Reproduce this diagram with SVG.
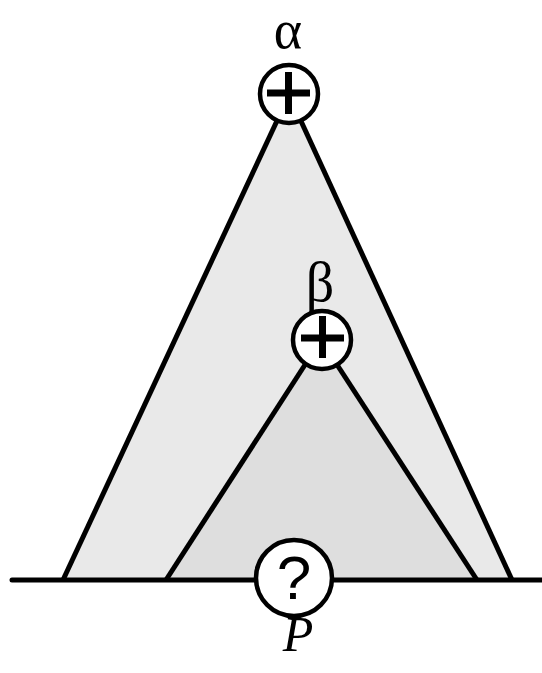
<svg xmlns="http://www.w3.org/2000/svg" width="542" height="673" viewBox="0 0 542 673">
<style>
.tri{stroke:#000;stroke-width:5;stroke-linejoin:round}
.big{fill:#e9e9e9}
.small{fill:#dedede}
.node{fill:#fff;stroke:#000;stroke-width:4.5}
.plus{stroke:#000;stroke-width:7;fill:none}
.lbl{font-family:"Liberation Serif","Times New Roman",serif;fill:#000;text-anchor:middle}
.q{font-family:"Liberation Sans",Arial,sans-serif;fill:#000;text-anchor:middle}
</style>
<rect width="542" height="673" fill="#fff"/>
<g id="connectors">
<polygon class="big" points="289,95 63,580 512,580"/>
<line class="tri" x1="289" y1="95" x2="63" y2="580"/>
<line class="tri" x1="289" y1="95" x2="512" y2="580"/>
<polygon class="small" points="321,340 166,580 477,580"/>
<line class="tri" x1="321" y1="340" x2="166" y2="580"/>
<line class="tri" x1="321" y1="340" x2="477" y2="580"/>
<line x1="12" y1="580" x2="542" y2="580" stroke="#000" stroke-width="5" stroke-linecap="round"/>
</g>
<g id="alpha">
<circle class="node" cx="289" cy="94" r="29"/>
<path class="plus" d="M267,93H310M288.5,72V114"/>
<text class="lbl" x="288" y="48" font-size="54">α</text>
</g>
<g id="beta">
<circle class="node" cx="322" cy="340" r="29"/>
<path class="plus" d="M301,338H344M322.5,316V358"/>
<text class="lbl" x="320" y="301" font-size="56">β</text>
</g>
<g id="P">
<circle class="node" cx="294" cy="578" r="38"/>
<text class="q" x="294" y="599" font-size="62">?</text>
<text class="lbl" x="298" y="651" font-size="50" font-style="italic">P</text>
</g>
</svg>
